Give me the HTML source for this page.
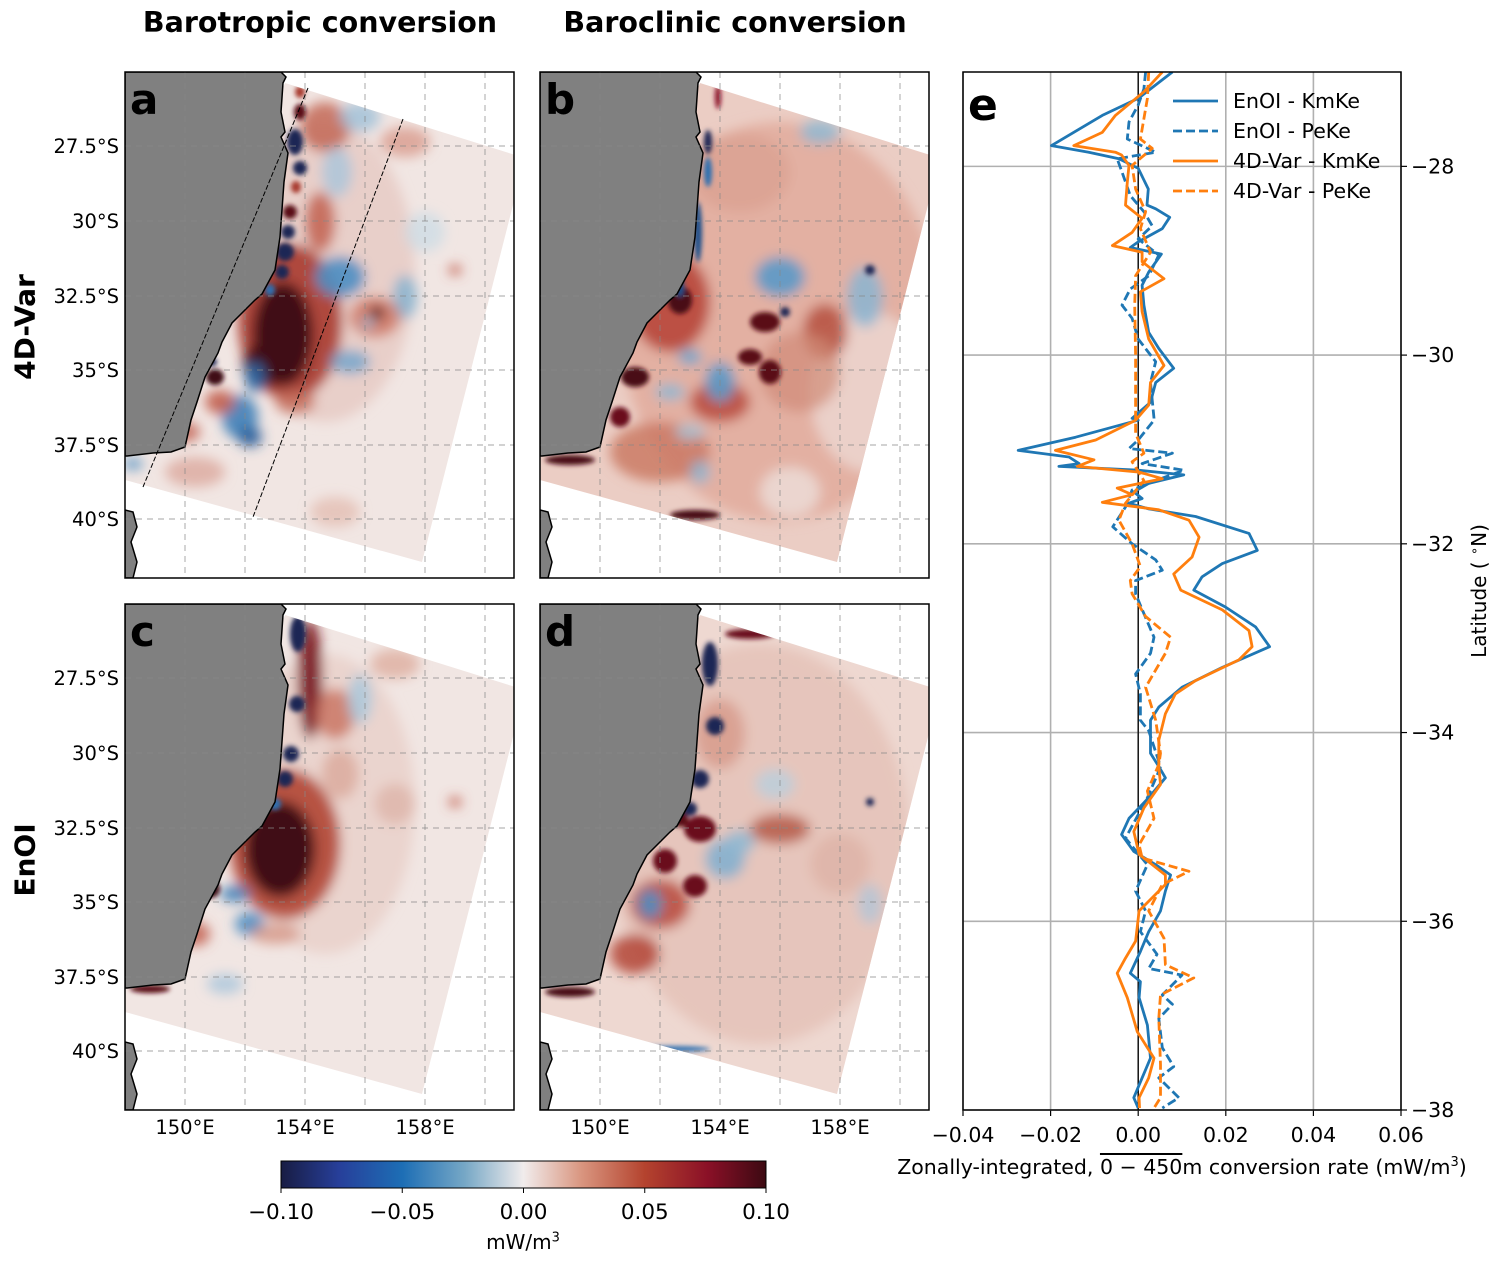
<!DOCTYPE html>
<html><head><meta charset="utf-8"><style>
body{margin:0;background:#fff;font-family:"DejaVu Sans","Liberation Sans",sans-serif;}
#root{position:relative;width:1501px;height:1266px;overflow:hidden;background:#fff;}
.t{position:absolute;white-space:nowrap;color:#000;}
svg text{font-family:"DejaVu Sans","Liberation Sans",sans-serif;}
</style></head><body>
<div id="root">
<svg id="main" width="1501" height="1266" style="position:absolute;left:0;top:0" xmlns="http://www.w3.org/2000/svg">
<defs>
<filter id="blur" x="-20%" y="-20%" width="140%" height="140%"><feGaussianBlur stdDeviation="6"/></filter>
<filter id="blur2" x="-20%" y="-20%" width="140%" height="140%"><feGaussianBlur stdDeviation="2.5"/></filter>
<clipPath id="dom"><polygon points="0,380 160,11 400,86 297,490 0,408"/></clipPath>
<clipPath id="panelclip"><rect x="0" y="0" width="389" height="506"/></clipPath>
<linearGradient id="cmap" x1="0" x2="1" y1="0" y2="0">
<stop offset="0" stop-color="#181c43"/><stop offset="0.12" stop-color="#273f9a"/><stop offset="0.25" stop-color="#1d6eb5"/><stop offset="0.38" stop-color="#77a8c6"/><stop offset="0.5" stop-color="#f1ecec"/><stop offset="0.62" stop-color="#d9957f"/><stop offset="0.75" stop-color="#b4432e"/><stop offset="0.88" stop-color="#8a1027"/><stop offset="1" stop-color="#3c0912"/>
</linearGradient>
</defs>
</svg>
<div class="t" style="left:320px;top:6px;transform:translateX(-50%);font-weight:bold;font-size:28.5px;">Barotropic conversion</div>
<div class="t" style="left:735px;top:6px;transform:translateX(-50%);font-weight:bold;font-size:28.5px;">Baroclinic conversion</div>
<div class="t" style="left:25px;top:327px;transform:translate(-50%,-50%) rotate(-90deg);font-weight:bold;font-size:28px;">4D-Var</div>
<div class="t" style="left:25px;top:860px;transform:translate(-50%,-50%) rotate(-90deg);font-weight:bold;font-size:28px;">EnOI</div>
<div class="t" style="left:1182px;top:1155px;transform:translateX(-50%);font-size:20.5px;">Zonally-integrated, <span style="text-decoration:overline;">0 − 450</span>m conversion rate (mW/m<sup style="font-size:13px;">3</sup>)</div>
<div class="t" style="left:1479px;top:591px;transform:translate(-50%,-50%) rotate(-90deg);font-size:20px;">Latitude ( <sup style="font-size:13px;">∘</sup>N)</div>
<div class="t" style="left:523px;top:1230px;transform:translateX(-50%);font-size:20px;">mW/m<sup style="font-size:13px;">3</sup></div>
</div>
<script>
const NS='http://www.w3.org/2000/svg';
const svg=document.getElementById('main');
function mk(tag,attrs,parent){const e=document.createElementNS(NS,tag);for(const k in attrs)e.setAttribute(k,attrs[k]);(parent||svg).appendChild(e);return e;}

const landPath="M0,0 L156,0 L161,5 L158,11 L156,40 L160,60 L156,65 L163,81 L159,110 L155,165 L150,198 L137,222 L130,228 L107,251 L97,270 L93,281 L80,305 L72,330 L66,348 L60,375 L46,380 L28,381 L2,384 L0,384 Z";
const landPath2="M0,438 L8,440 L12,455 L6,470 L12,490 L8,506 L0,506 Z";
const blobsA=[[200,200,90,150,'#e3c0b7',.6],[165,250,52,78,'#a83a2e',.9],[158,262,30,52,'#400a14',1],[140,292,22,22,'#400a14',1],
[200,55,25,25,'#c0604e',.8],[195,150,15,30,'#c05a48',.8],[235,45,20,15,'#9dbfd8',.8],[280,70,25,15,'#d59080',.7],[212,100,15,25,'#a9c6dc',.8],
[215,205,25,20,'#4d8ec2',.9],[225,290,20,12,'#6ea3cc',.8],[280,225,12,22,'#7fb0d0',.8],[300,160,20,20,'#c9dce6',.7],
[250,245,25,20,'#cf7b68',.9],[252,241,7,7,'#5a0f18',1],[243,251,5,5,'#8cc0dc',1],[330,198,6,5,'#c05a48',1],
[115,345,18,22,'#3f7fb8',.9],[130,305,10,15,'#2b6aa6',.9],[95,330,15,12,'#c25e4c',.9],[70,400,30,15,'#d8a094',.7],[170,330,20,12,'#c46a58',.8],[125,365,12,10,'#2a5d9a',.9],[60,360,15,10,'#c05a4a',.8],[8,392,10,6,'#4d8ec2',.8],[210,440,25,15,'#e0b0a4',.6]];
const sharpA=[[175,20,5,6,'#a83a2e'],[175,40,6,8,'#5a0f18'],[170,70,8,13,'#1b2655'],[175,96,7,7,'#1b2655'],[171,115,5,6,'#a83a2e'],[165,140,7,7,'#5a0f18'],[163,160,7,7,'#1b2655'],[160,180,9,9,'#1b2655'],[157,200,7,7,'#1b2655'],[145,218,5,6,'#2f6fb0'],[90,305,9,8,'#400a14'],[87,290,5,4,'#1b2655']];
const blobsB=[[240,250,160,200,'#e2ad9f',.9],[330,320,60,80,'#ecd8d2',.8],[200,100,50,40,'#dba191',.8],[130,230,40,50,'#b8473a',.9],[285,260,22,28,'#b5503e',.85],[180,330,30,20,'#b8493a',.85],[120,380,50,30,'#c9765f',.8],[260,300,40,40,'#d08c78',.7],
[240,205,25,20,'#5b9ac8',.9],[325,225,18,30,'#8ab5d2',.85],[180,310,15,20,'#5b9ac8',.9],[150,285,12,8,'#6fa5cc',.9],[130,320,15,8,'#8fb8d2',.9],[280,60,20,12,'#8fb8d2',.85],[150,360,15,8,'#a4c4d8',.8],[160,400,10,12,'#8ab5d2',.8],[250,420,30,25,'#ecdeda',.8]];
const sharpB=[[140,228,12,14,'#4a0b16'],[95,305,14,10,'#4a0b16'],[225,250,15,10,'#5a0f18'],[210,285,12,8,'#5a0f18'],[230,300,11,12,'#5a0f18'],[80,345,10,10,'#6a0f1a'],[30,388,25,5,'#4a0b16'],[155,443,25,5,'#4a0b16'],[245,240,5,5,'#1b2655'],[330,198,5,5,'#1b2655'],[178,25,3,12,'#8a1027'],[168,70,4,12,'#1b2655'],[168,100,4,15,'#2f6fb0'],[158,160,4,30,'#1f4f8a'],[140,215,4,10,'#1f4f8a']];
const blobsC=[[200,200,90,150,'#e6c8c0',.6],[160,240,55,75,'#b04434',.9],[155,245,35,48,'#400a14',1],[185,75,12,60,'#7a1520',.95],[210,110,20,25,'#c8705e',.8],[235,95,12,25,'#a9c8dc',.85],[270,60,25,15,'#dba596',.7],
[110,290,15,8,'#3f7fb8',.9],[125,320,15,12,'#4d8ec2',.9],[70,330,15,12,'#c25e4c',.85],[100,380,18,10,'#a9c6dc',.8],[150,330,25,10,'#d49585',.8],[215,170,18,25,'#d8a394',.7],[270,200,20,20,'#d9a99d',.6],[330,198,6,5,'#c05a48',1]];
const sharpC=[[173,30,8,18,'#1b2655'],[172,100,8,8,'#1b2655'],[166,150,8,8,'#1b2655'],[160,175,8,8,'#1b2655'],[150,200,6,6,'#2f6fb0'],[85,285,10,9,'#400a14'],[25,385,20,4,'#5a0f18']];
const blobsD=[[220,240,150,200,'#e6c3b9',.9],[240,225,30,15,'#b55a48',.85],[120,300,30,25,'#b8493a',.85],[95,350,25,20,'#b34536',.85],[185,255,20,20,'#7fb0d0',.85],[200,238,15,12,'#8fb8d2',.85],[235,180,20,15,'#b8d0df',.8],[180,130,25,35,'#d69a8a',.8],[110,300,12,15,'#4d8ec2',.9],[300,260,30,30,'#ddb0a4',.7],[330,300,12,20,'#a9c6dc',.7]];
const sharpD=[[160,225,16,13,'#6a0f1a'],[125,257,12,12,'#6a0f1a'],[155,282,12,11,'#6a0f1a'],[140,215,8,8,'#5a0f18'],[170,60,8,22,'#1b2655'],[175,122,9,9,'#1b2655'],[160,175,9,9,'#1b2655'],[150,205,7,7,'#1b2655'],[210,30,25,5,'#6a0f1a'],[30,388,25,5,'#4a0b16'],[130,445,40,3,'#2f6fb0'],[330,198,4,4,'#1b2655']];

const panels=[
 {id:'a',x:125,y:72,blobs:blobsA,sharp:sharpA,base:'#f1e6e3',lines:true},
 {id:'b',x:540,y:72,blobs:blobsB,sharp:sharpB,base:'#ebcdc4',lines:false},
 {id:'c',x:125,y:604,blobs:blobsC,sharp:sharpC,base:'#f1e6e3',lines:false},
 {id:'d',x:540,y:604,blobs:blobsD,sharp:sharpD,base:'#eed8d1',lines:false}];
const latTicks=['27.5°S','30°S','32.5°S','35°S','37.5°S','40°S'];
const latY=[74,149,224,298,373,447];
const lonGridX=[60,120,180,240,300,360];
const lonTicks=['150°E','154°E','158°E'];
const lonTickX=[60,180,300];

panels.forEach(p=>{
 const g=mk('g',{transform:`translate(${p.x},${p.y})`});
 
 
 const inner=mk('g',{'clip-path':'url(#panelclip)'},g);
 const d=mk('g',{'clip-path':'url(#dom)'},inner);
 const dom=mk('rect',{x:0,y:0,width:400,height:506,fill:p.base},d);
 
 
 const bg=mk('g',{filter:'url(#blur)'},d);
 p.blobs.forEach(b=>{const e=mk('ellipse',{cx:b[0],cy:b[1],rx:b[2],ry:b[3],fill:b[4],opacity:b[5]},bg);
  
  });
 const sg=mk('g',{filter:'url(#blur2)'},d);
 p.sharp.forEach(b=>{const e=mk('ellipse',{cx:b[0],cy:b[1],rx:b[2],ry:b[3],fill:b[4]},sg);
  
  });
 const land=mk('path',{d:landPath,fill:'#808080',stroke:'#000','stroke-width':1.5},inner);
 
 
 const land2=mk('path',{d:landPath2,fill:'#808080',stroke:'#000','stroke-width':1.5},inner);
 
 
 lonGridX.forEach(x=>{const l=mk('line',{x1:x,x2:x,y1:0,y2:506,stroke:'#888','stroke-opacity':0.6,'stroke-dasharray':'6,5','stroke-width':1.2},inner);
  
  });
 latY.forEach(y=>{const l=mk('line',{x1:0,x2:389,y1:y,y2:y,stroke:'#888','stroke-opacity':0.6,'stroke-dasharray':'6,5','stroke-width':1.2},inner);
  
  });
 if(p.lines){
  [[183,16,18,415],[278,47,128,445]].forEach(c=>{const l=mk('line',{x1:c[0],y1:c[1],x2:c[2],y2:c[3],stroke:'#000','stroke-width':1,'stroke-dasharray':'5,2'},inner);
   
   });
 }
 const fr=mk('rect',{x:0,y:0,width:389,height:506,fill:'none',stroke:'#000','stroke-width':1.5},g);
 
 
 const lt=mk('text',{x:5,y:42,'font-size':42,'font-weight':'bold'},g);
 lt.textContent=p.id;
 
 
 if(p.id==='a'||p.id==='c'){
  latTicks.forEach((t,i)=>{const tx=mk('text',{x:-6,y:latY[i]+7,'text-anchor':'end','font-size':19.5},g);
   tx.textContent=t;
   
   });
 }
 if(p.id==='c'||p.id==='d'){
  lonTicks.forEach((t,i)=>{const tx=mk('text',{x:lonTickX[i],y:530,'text-anchor':'middle','font-size':19.5},g);
   tx.textContent=t;
   
   });
 }
});

// ---------- colorbar ----------
const cbTicks=[-0.10,-0.05,0,0.05,0.10];
const cbLabels=['\u22120.10','\u22120.05','0.00','0.05','0.10'];
const cb=mk('rect',{x:281,y:1161,width:485,height:27,fill:'url(#cmap)',stroke:'#000','stroke-width':1});


cbTicks.forEach((v,i)=>{const x=281+(v+0.1)/0.2*485;
 const l=mk('line',{x1:x,x2:x,y1:1188,y2:1193,stroke:'#000'});
 
 
 const t=mk('text',{x:x,y:1219,'text-anchor':'middle','font-size':21.5});
 t.textContent=cbLabels[i];
 
 });

// ---------- panel e ----------
const enoiKmLat=[-27.0,-27.28,-27.46,-27.78,-27.85,-27.92,-28.02,-28.24,-28.41,-28.45,-28.54,-28.66,-28.80,-28.86,-28.93,-29.12,-29.26,-29.47,-29.76,-29.93,-30.14,-30.29,-30.50,-30.67,-30.69,-30.87,-31.01,-31.08,-31.15,-31.18,-31.22,-31.27,-31.36,-31.45,-31.52,-31.57,-31.63,-31.71,-31.89,-32.07,-32.21,-32.35,-32.49,-32.67,-32.88,-33.09,-33.31,-33.52,-33.73,-33.87,-34.22,-34.36,-34.48,-34.69,-34.91,-35.08,-35.26,-35.40,-35.51,-35.68,-35.89,-36.11,-36.32,-36.55,-36.64,-36.81,-37.10,-37.45,-37.66,-37.87,-37.98];
const enoiKmVal=[0.0078,0,-0.0082,-0.0198,-0.0113,-0.0044,0,0.0023,0.002,0.004,0.0072,0.0055,0,-0.0018,0.0053,0.0024,0.0009,0.0013,0.0024,0.0047,0.0081,0.004,0.0028,-0.0014,0,-0.0143,-0.0274,-0.0158,-0.0135,-0.0181,0,0.0104,0.0024,-0.001,0.0009,-0.0021,0.0024,0.0131,0.0253,0.0272,0.0192,0.0146,0.0127,0.0199,0.0268,0.030,0.0192,0.01,0.0047,0.0028,0.0028,0.0047,0.0062,0.0024,-0.0021,-0.0038,-0.001,0.004,0.0074,0.0062,0.0051,0.0024,0.0005,-0.0018,0.0005,0.0002,0.0021,0.0028,0.0009,-0.001,0];
const enoiPeLat=[-27.0,-27.18,-27.35,-27.53,-27.71,-27.85,-27.92,-28.06,-28.31,-28.48,-28.63,-28.77,-28.94,-29.16,-29.30,-29.47,-29.61,-29.83,-30.07,-30.29,-30.67,-30.69,-30.90,-30.99,-31.04,-31.15,-31.22,-31.33,-31.43,-31.61,-31.82,-32.00,-32.17,-32.28,-32.39,-32.53,-32.74,-32.99,-33.16,-33.38,-33.59,-33.87,-33.98,-34.36,-34.41,-34.69,-35.12,-35.40,-35.68,-35.89,-36.11,-36.35,-36.50,-36.57,-36.78,-36.88,-37.03,-37.34,-37.54,-37.66,-37.87,-37.98];
const enoiPeVal=[0.0017,0.0013,0,-0.0021,-0.0025,0.004,-0.0048,-0.0037,-0.0018,0.0013,0.0032,0,0.0047,0.0024,-0.0018,-0.0037,-0.0014,0,0.004,0.0028,0.0036,0.0036,0,-0.0021,0.0078,0.0009,0.0104,0.004,-0.0014,-0.0029,-0.0058,-0.0014,0.004,0.0055,-0.0006,-0.0006,0.0013,0.0036,0.0028,-0.0006,0.0005,0.0005,0.0024,0.0051,0.0047,0.0021,-0.0029,0.0021,-0.0006,0.0017,0.0005,0.0043,0.0024,0.01,0.0055,0.0078,0.0047,0.0055,0.0081,0.0047,0.0093,0.0055];
const varKmLat=[-27.0,-27.21,-27.46,-27.64,-27.78,-27.85,-27.88,-27.99,-28.17,-28.41,-28.55,-28.70,-28.84,-28.91,-29.01,-29.19,-29.33,-29.54,-29.83,-30.11,-30.29,-30.53,-30.69,-30.90,-31.01,-31.11,-31.18,-31.24,-31.31,-31.41,-31.48,-31.56,-31.64,-31.75,-31.93,-32.14,-32.32,-32.49,-32.70,-32.92,-33.09,-33.23,-33.45,-33.59,-33.80,-34.08,-34.36,-34.55,-34.80,-35.05,-35.29,-35.51,-35.61,-35.89,-36.21,-36.39,-36.55,-36.81,-37.17,-37.45,-37.66,-37.87,-37.98];
const varKmVal=[0.0055,0.0013,-0.0052,-0.0082,-0.0147,-0.0052,-0.0038,-0.0021,-0.0025,-0.0029,0.0009,-0.0014,-0.0059,0.0009,0.0009,0.0059,0.0005,0.0009,0.0024,0.0059,0.0028,0.0024,-0.0006,-0.0097,-0.0189,-0.0101,-0.0139,0.0002,0.0055,-0.0048,-0.0014,-0.0082,0.0047,0.0116,0.0139,0.0123,0.0081,0.0097,0.0192,0.0253,0.026,0.023,0.0131,0.0085,0.0062,0.0047,0.0047,0.0051,0.0013,-0.001,0.0002,0.0062,0.0062,0.0002,-0.0006,-0.0029,-0.0048,-0.0025,-0.0002,0.0036,0.0024,0.0002,0.0003];
const varPeLat=[-27.0,-27.28,-27.71,-27.81,-27.99,-28.24,-28.48,-28.66,-28.91,-29.16,-29.47,-30.00,-30.36,-30.67,-30.83,-31.04,-31.13,-31.33,-31.57,-31.75,-32.00,-32.24,-32.39,-32.53,-32.77,-32.99,-33.16,-33.52,-33.87,-34.22,-34.34,-34.62,-34.91,-35.19,-35.33,-35.47,-35.61,-35.89,-36.18,-36.46,-36.60,-36.78,-37.03,-37.52,-37.87,-37.98];
const varPeVal=[0.0024,0.0021,0.0005,0.0032,-0.0014,-0.0006,0.0017,0.0005,0.0028,-0.0006,-0.0008,-0.0006,-0.0006,-0.0006,-0.0006,0.0013,-0.0014,0.0013,-0.0029,-0.0044,-0.0014,0.0005,-0.0018,-0.0014,0.0017,0.0074,0.0062,0.0017,0.004,0.0051,0.0047,0.0021,0.0036,0.0002,0.0009,0.0116,0.0055,0.0024,0.0059,0.0062,0.0127,0.0051,0.0047,0.0051,0.0051,0.0036];
const xTicks=[-0.04,-0.02,0,0.02,0.04,0.06];
const xTickLabels=['\u22120.04','\u22120.02','0.00','0.02','0.04','0.06'];
const yTicks=[-28,-30,-32,-34,-36,-38];
const yTickLabels=['\u221228','\u221230','\u221232','\u221234','\u221236','\u221238'];
const E={x0:963,x1:1401,y0:72,y1:1110,vmin:-0.04,vmax:0.06,latTop:-27,latBot:-38};
const sx=v=>E.x0+(v-E.vmin)/(E.vmax-E.vmin)*(E.x1-E.x0);
const sy=l=>E.y0+(E.latTop-l)/(E.latTop-E.latBot)*(E.y1-E.y0);
const eg=mk('g',{});


xTicks.forEach((v,i)=>{const x=sx(v);
 const l=mk('line',{x1:x,x2:x,y1:E.y0,y2:E.y1,stroke:'#b0b0b0','stroke-width':1.6},eg);
 
 
 const tk=mk('line',{x1:x,x2:x,y1:E.y1,y2:E.y1+6,stroke:'#000','stroke-width':1.2},eg);
 
 
 const t=mk('text',{x:x,y:1142,'text-anchor':'middle','font-size':20.5},eg);
 t.textContent=xTickLabels[i];
 
 });
yTicks.forEach((v,i)=>{const y=sy(v);
 const l=mk('line',{x1:E.x0,x2:E.x1,y1:y,y2:y,stroke:'#b0b0b0','stroke-width':1.6},eg);
 
 
 const tk=mk('line',{x1:E.x1,x2:E.x1+6,y1:y,y2:y,stroke:'#000','stroke-width':1.2},eg);
 
 
 const t=mk('text',{x:E.x1+10,y:y+7,'font-size':20.5},eg);
 t.textContent=yTickLabels[i];
 
 });
const zl=mk('line',{x1:sx(0),x2:sx(0),y1:E.y0,y2:E.y1,stroke:'#000','stroke-width':1.3},eg);


const series=[
 {lat:enoiKmLat,val:enoiKmVal,c:'#1f77b4',dash:null,name:'EnOI - KmKe'},
 {lat:enoiPeLat,val:enoiPeVal,c:'#1f77b4',dash:'9,4',name:'EnOI - PeKe'},
 {lat:varKmLat,val:varKmVal,c:'#ff7f0e',dash:null,name:'4D-Var - KmKe'},
 {lat:varPeLat,val:varPeVal,c:'#ff7f0e',dash:'9,4',name:'4D-Var - PeKe'}];
const cp=mk('clipPath',{id:'eclip'},svg.querySelector('defs'));
mk('rect',{x:E.x0,y:E.y0,width:E.x1-E.x0,height:E.y1-E.y0},cp);
const cg=mk('g',{'clip-path':'url(#eclip)'},eg);
series.forEach((s,k)=>{
 const pts=s.lat.map((l,i)=>sx(s.val[i]).toFixed(1)+','+sy(l).toFixed(1)).join(' ');
 const a={points:pts,fill:'none',stroke:s.c,'stroke-width':2.8,'stroke-linejoin':'round'};
 if(s.dash)a['stroke-dasharray']=s.dash;
 const pl=mk('polyline',a,cg);
 
 
 const ly=101+k*30;
 const ll=mk('line',{x1:1173,x2:1218,y1:ly,y2:ly,stroke:s.c,'stroke-width':2.8,'stroke-dasharray':s.dash||'none'},eg);
 
 
 const lt=mk('text',{x:1233,y:ly+7,'font-size':20.5},eg);
 lt.textContent=s.name;
 
 
});
const ef=mk('rect',{x:E.x0,y:E.y0,width:E.x1-E.x0,height:E.y1-E.y0,fill:'none',stroke:'#000','stroke-width':1.5},eg);


const el=mk('text',{x:968,y:120,'font-size':44,'font-weight':'bold'},eg);
el.textContent='e';


</script>
</body></html>
